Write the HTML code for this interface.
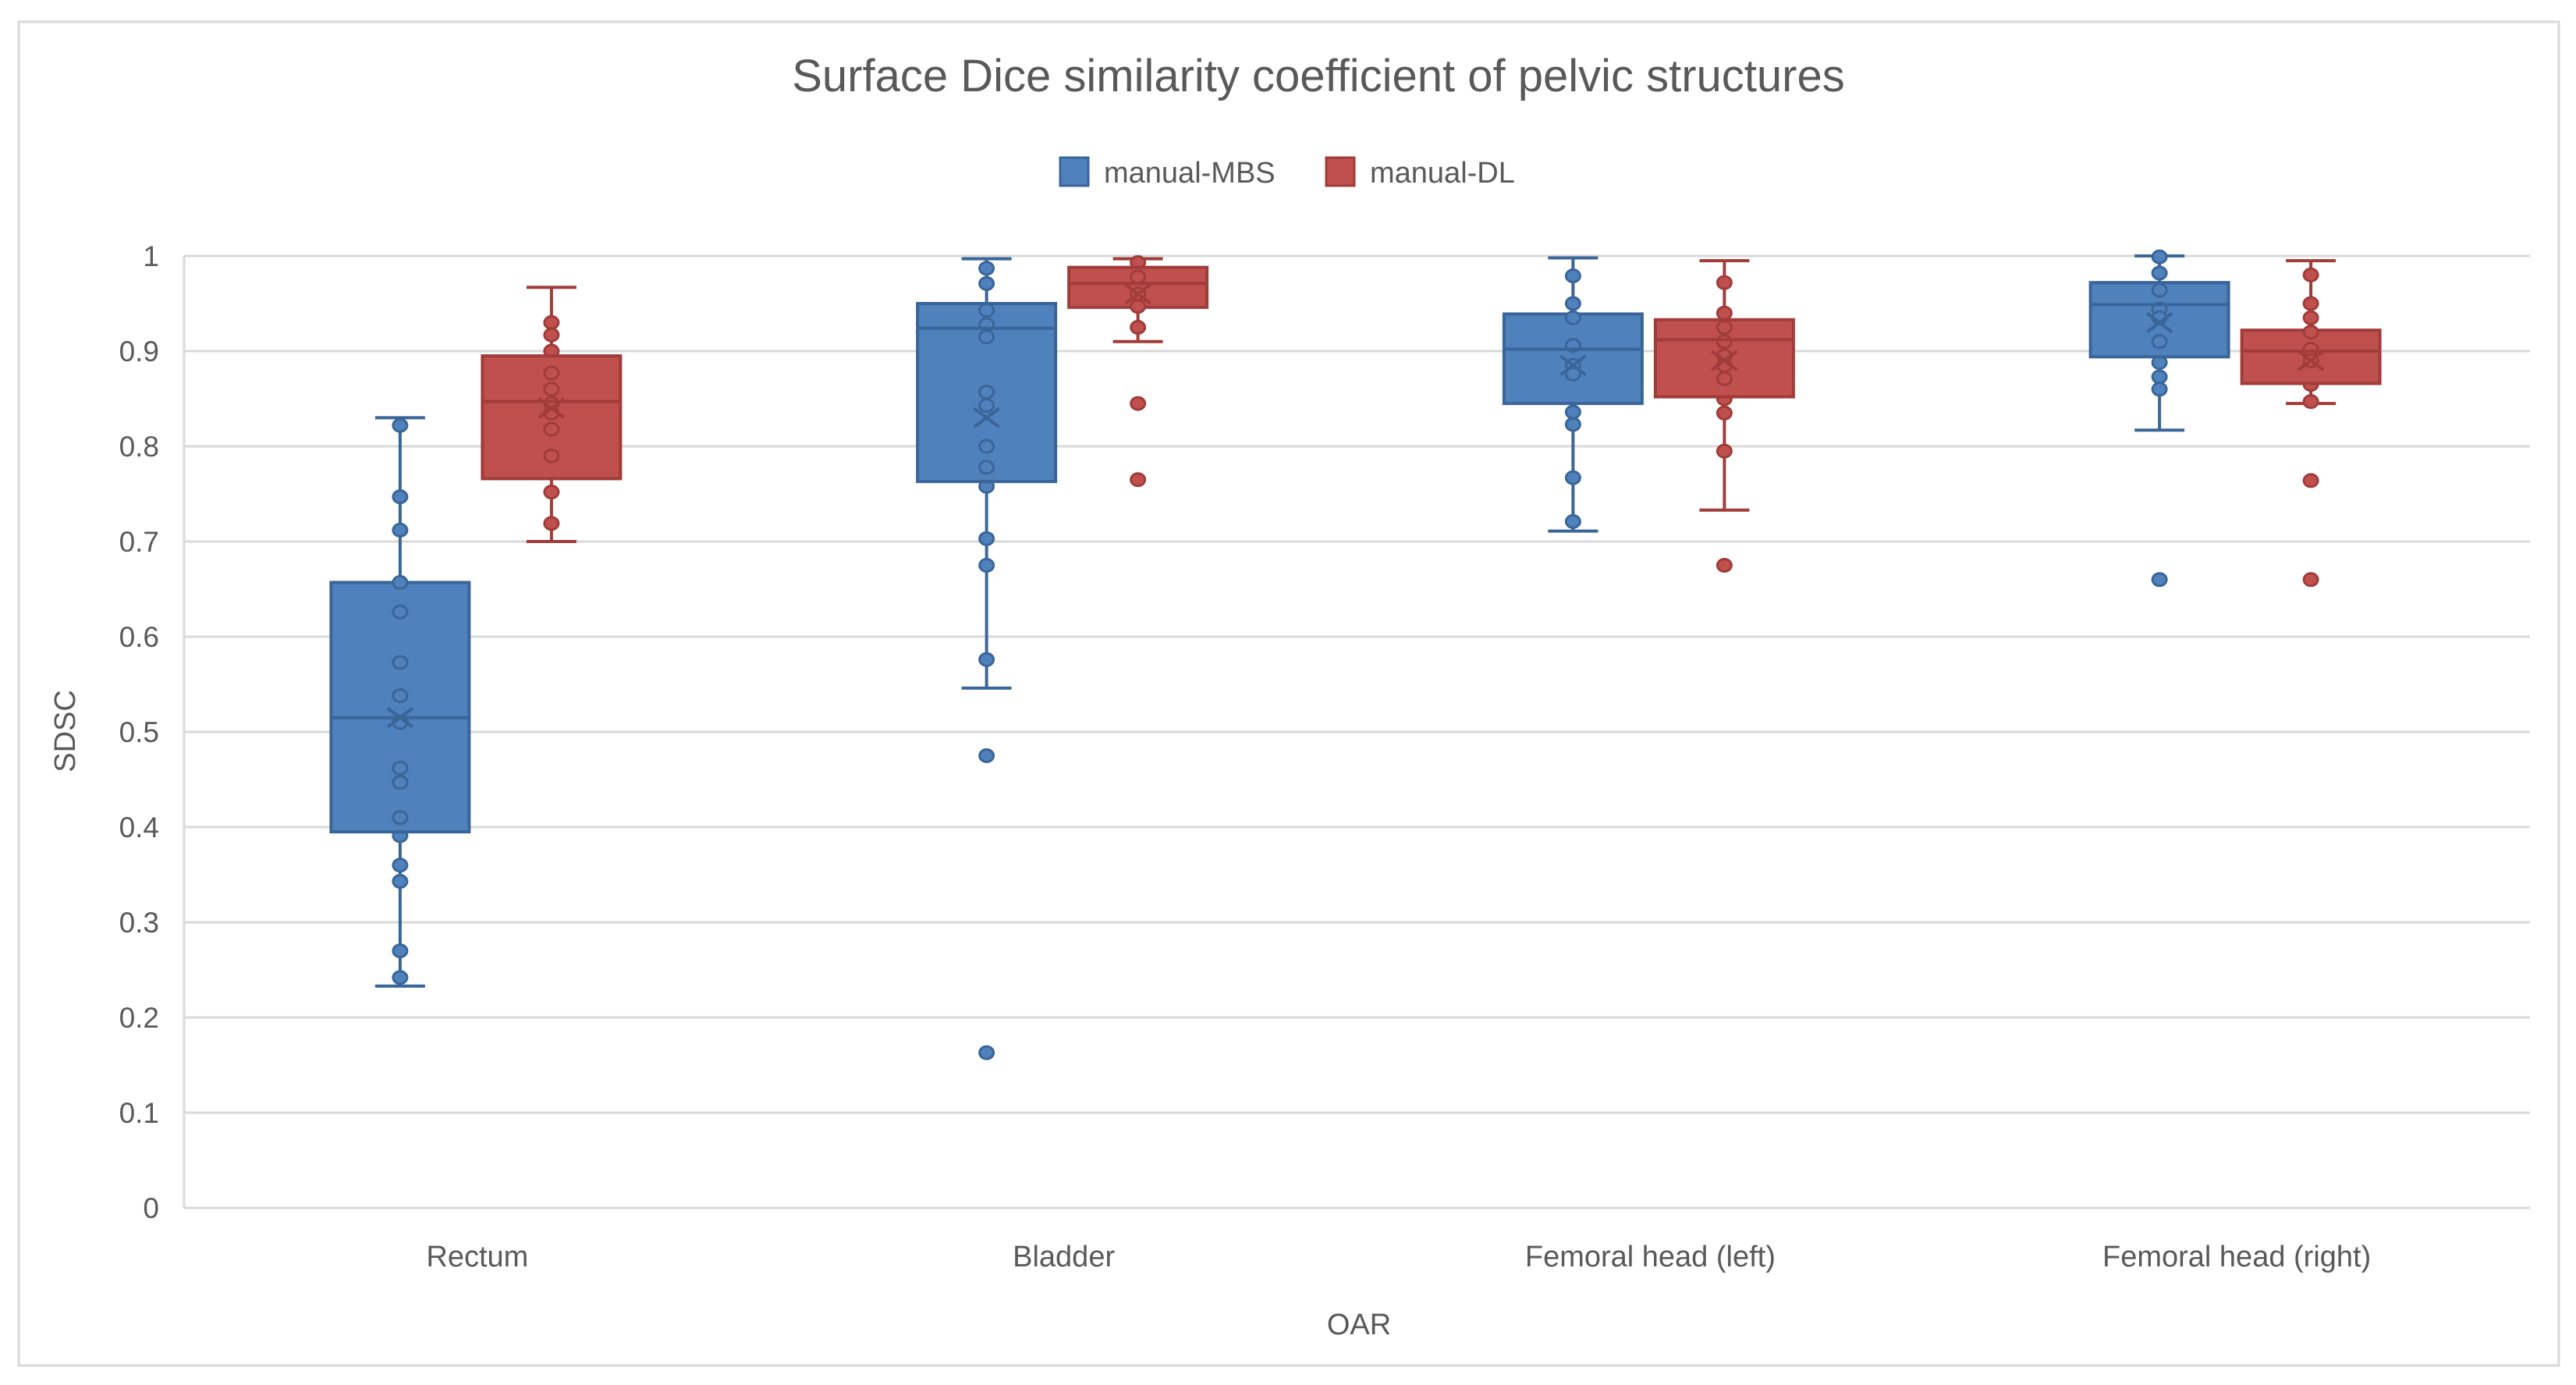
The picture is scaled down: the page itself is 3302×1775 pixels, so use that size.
<!DOCTYPE html>
<html><head><meta charset="utf-8"><style>
html,body{margin:0;padding:0;background:#fff;}
svg{display:block;font-family:"Liberation Sans",sans-serif;}
</style></head><body>
<svg id="chart" width="3302" height="1775" viewBox="0 0 3302 1775">
<rect x="24" y="28" width="3256" height="1722" fill="#fff" stroke="#D9D9D9" stroke-width="3"/>
<text x="1690" y="117" text-anchor="middle" font-size="58" fill="#595959">Surface Dice similarity coefficient of pelvic structures</text>
<g>
<g>
<rect x="1359" y="202" width="36" height="36" fill="#4F81BD" stroke="#3A6598" stroke-width="3"/>
<text x="1415" y="234" font-size="38" fill="#595959">manual-MBS</text></g>
<g>
<rect x="1700" y="202" width="36" height="36" fill="#C0504D" stroke="#A03C3A" stroke-width="3"/>
<text x="1756" y="234" font-size="38" fill="#595959">manual-DL</text></g>
</g>
<g id="grid"></g><g id="yticks"></g><g id="xticks"></g><g id="marks"></g>
<text x="1742" y="1710" text-anchor="middle" font-size="38" fill="#595959">OAR</text>
<text transform="translate(96,937) rotate(-90)" text-anchor="middle" font-size="38" fill="#595959">SDSC</text>
</svg>
<script>
const categories = ["Rectum","Bladder","Femoral head (left)","Femoral head (right)"];
const yTicks = [0,0.1,0.2,0.3,0.4,0.5,0.6,0.7,0.8,0.9,1];
const yTickLabels = ["0","0.1","0.2","0.3","0.4","0.5","0.6","0.7","0.8","0.9","1"];
const seriesNames = ["manual-MBS","manual-DL"];
const mbsLow = [0.233,0.546,0.711,0.817];
const mbsQ1 = [0.395,0.763,0.845,0.894];
const mbsMed = [0.515,0.924,0.902,0.949];
const mbsQ3 = [0.657,0.950,0.939,0.972];
const mbsHigh = [0.830,0.997,0.998,1.0];
const mbsMean = [0.515,0.83,0.885,0.93];
const mbsPoints = [
 [0.822,0.747,0.712,0.657,0.626,0.573,0.538,0.51,0.462,0.447,0.41,0.391,0.36,0.343,0.27,0.242],
 [0.987,0.971,0.943,0.928,0.915,0.857,0.843,0.80,0.778,0.758,0.703,0.675,0.576,0.475,0.163],
 [0.979,0.95,0.935,0.906,0.885,0.876,0.836,0.823,0.767,0.721],
 [0.999,0.982,0.964,0.944,0.935,0.91,0.888,0.873,0.86,0.66]];
const dlLow = [0.700,0.910,0.733,0.845];
const dlQ1 = [0.766,0.946,0.852,0.866];
const dlMed = [0.847,0.971,0.912,0.900];
const dlQ3 = [0.895,0.988,0.933,0.922];
const dlHigh = [0.967,0.997,0.995,0.995];
const dlMean = [0.84,0.96,0.89,0.89];
const dlPoints = [
 [0.93,0.917,0.90,0.877,0.86,0.845,0.835,0.818,0.79,0.752,0.719],
 [0.993,0.978,0.96,0.947,0.925,0.845,0.765],
 [0.972,0.94,0.925,0.91,0.895,0.885,0.871,0.85,0.835,0.795,0.675],
 [0.98,0.95,0.935,0.92,0.902,0.89,0.865,0.847,0.764,0.66]];

const NS="http://www.w3.org/2000/svg";
const L=236,R=3243,T=328,B=1548;
const y=v=>B-(B-T)*v;
const bandW=(R-L)/categories.length;
const xc=i=>L+bandW*(i+0.5);
function mk(tag,attrs,parent){const e=document.createElementNS(NS,tag);for(const k in attrs)e.setAttribute(k,attrs[k]);parent.appendChild(e);return e;}
const grid=document.getElementById('grid'),yt=document.getElementById('yticks'),xt=document.getElementById('xticks'),marks=document.getElementById('marks');
yTicks.forEach((t,i)=>{
 const g=mk('line',{x1:L,x2:R,y1:y(t),y2:y(t),stroke:'#D9D9D9','stroke-width':3},grid);
 
 
 const tx=mk('text',{x:204,y:y(t)+13,'text-anchor':'end','font-size':37,fill:'#595959'},yt);
 tx.textContent=yTickLabels[i];
 
 
});
const vax=mk('line',{x1:L,x2:L,y1:T,y2:B,stroke:'#D9D9D9','stroke-width':3},grid);


categories.forEach((c,i)=>{
 const tx=mk('text',{x:xc(i),y:1623,'text-anchor':'middle','font-size':38,fill:'#595959'},xt);
 tx.textContent=c;
 
 
});
const series=[
 {low:mbsLow,q1:mbsQ1,med:mbsMed,q3:mbsQ3,high:mbsHigh,mean:mbsMean,pts:mbsPoints,fill:'#4F81BD',stroke:'#3A6598',off:-99,name:'mbs'},
 {low:dlLow,q1:dlQ1,med:dlMed,q3:dlQ3,high:dlHigh,mean:dlMean,pts:dlPoints,fill:'#C0504D',stroke:'#A03C3A',off:95,name:'dl'}];
const bw=177,cap=32;
series.forEach(s=>{
 categories.forEach((c,i)=>{
  const cx=xc(i)+s.off;
  const hi=y(s.high[i]), lo=y(s.low[i]);
  const g=mk('g',{},marks);
  
  
  mk('line',{x1:cx,x2:cx,y1:hi,y2:lo,stroke:s.stroke,'stroke-width':4},g);
  mk('line',{x1:cx-cap,x2:cx+cap,y1:hi,y2:hi,stroke:s.stroke,'stroke-width':4},g);
  mk('line',{x1:cx-cap,x2:cx+cap,y1:lo,y2:lo,stroke:s.stroke,'stroke-width':4},g);
  s.pts[i].forEach(v=>{
   if(v<s.q1[i]||v>s.q3[i]){
    const p=mk('ellipse',{cx:cx,cy:y(v),rx:9,ry:8,fill:s.fill,stroke:s.stroke,'stroke-width':3},g);
    
    
   }
  });
  mk('rect',{x:cx-bw/2,y:y(s.q3[i]),width:bw,height:y(s.q1[i])-y(s.q3[i]),fill:s.fill,stroke:s.stroke,'stroke-width':4},g);
  s.pts[i].forEach(v=>{
   if(v>=s.q1[i]&&v<=s.q3[i]){
    const p=mk('ellipse',{cx:cx,cy:y(v),rx:9,ry:8,fill:s.fill,stroke:s.stroke,'stroke-width':3},g);
    
    
   }
  });
  mk('line',{x1:cx-bw/2,x2:cx+bw/2,y1:y(s.med[i]),y2:y(s.med[i]),stroke:s.stroke,'stroke-width':4},g);
  const my=y(s.mean[i]);
  mk('path',{d:`M${cx-16},${my-12}L${cx+16},${my+12}M${cx-16},${my+12}L${cx+16},${my-12}`,stroke:s.stroke,'stroke-width':4,fill:'none'},g);
 });
});
</script>
</body></html>
